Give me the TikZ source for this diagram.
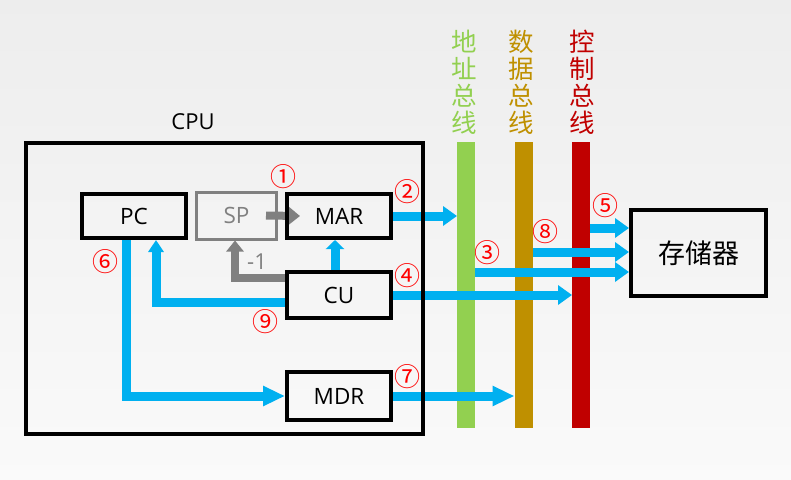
\documentclass[tikz,border=0pt]{standalone}
\usepackage{fontspec}
\setmainfont{Open Sans}
\newfontfamily\cjk{Noto Sans CJK SC}
\usetikzlibrary{arrows.meta}
\pgfdeclarelayer{back}
\pgfdeclarelayer{links}
\pgfsetlayers{back,links,main}

\definecolor{flow}{HTML}{00B0F0}
\definecolor{dim}{HTML}{808080}
\definecolor{addrc}{HTML}{92D050}
\definecolor{datac}{HTML}{BF9000}
\definecolor{ctrlc}{HTML}{C00000}
\definecolor{numred}{HTML}{FF0000}

\tikzset{
  unit/.style={draw, line width=4pt, minimum width=104pt, inner sep=0pt,
    font=\fontsize{22.5}{26}\selectfont},
  bus/.style={minimum width=18pt, minimum height=286pt, inner sep=0pt, outer sep=0pt},
  flowarrow/.style={draw=flow, line width=9pt, -{Triangle[length=14pt,width=19pt]}},
  dimarrow/.style={draw=dim, line width=8pt, -{Triangle[length=11pt,width=17pt]}},
  tag/.style={text=numred, font=\cjk\fontsize{26}{26}\selectfont, inner sep=0pt},
  buslabel/.style={align=center, font=\cjk\fontsize{25.5}{27}\selectfont, inner sep=0pt},
}

\begin{document}
\begin{tikzpicture}[x=1pt,y=-1pt]
% page background and the three buses
\begin{pgfonlayer}{back}
  \shade[top color=black!7, bottom color=black!2] (0,0) rectangle (791,479);
  \node[bus, fill=addrc] (addr) at (466,285) {};
  \node[bus, fill=datac] (data) at (523.5,285) {};
  \node[bus, fill=ctrlc] (ctrl) at (581,285) {};
\end{pgfonlayer}
\useasboundingbox (0,0) rectangle (791,479);

% bus names, one character per line
\node[buslabel, text=addrc] (addrname) at (464,82) {地\\址\\总\\线};
\node[buslabel, text=datac] (dataname) at (521,82) {数\\据\\总\\线};
\node[buslabel, text=ctrlc] (ctrlname) at (582,82) {控\\制\\总\\线};

% CPU and its registers
\node[unit, minimum width=397pt, minimum height=291pt] (cpu) at (224.5,288.5) {};
\node[font=\fontsize{22}{26}\selectfont] (cpuname) at (193,122) {CPU};
\node[unit, minimum height=44pt] (pc) at (134,216) {PC};
\node[unit, draw=dim, text=dim, line width=3pt, minimum width=80pt, minimum height=47pt] (sp) at (236.5,215.5) {SP};
\node[unit, minimum height=44pt] (mar) at (339,216) {MAR};
\node[unit, minimum height=46pt] (cu) at (339,295) {CU};
\node[unit, minimum height=48pt] (mdr) at (339,396) {MDR};

% main memory
\node[unit, minimum width=135pt, minimum height=86pt, font=\cjk\fontsize{27}{27}\selectfont] (mem) at (698.5,253) {存储器};

% data paths
\begin{pgfonlayer}{links}
  \draw[flowarrow] (mar.east) -- (mar.east -| addr.west);
  \draw[flowarrow] (cu.east) -- (cu.east -| ctrl.west);
  \draw[flowarrow, -{Triangle[length=22pt,width=19pt]}] (mdr.east) -- (mdr.east -| data.west);
  \draw[flowarrow] (addr.east |- 0,272) -- (mem.west |- 0,272);
  \draw[flowarrow] (data.east |- 0,252) -- (mem.west |- 0,252);
  \draw[flowarrow] (ctrl.east |- 0,228) -- (mem.west |- 0,228);
  \draw[flowarrow, -{Triangle[length=9pt,width=18pt]}] ([xshift=-4pt]cu.north) -- ([xshift=-4pt]mar.south);
  \draw[flowarrow, -{Triangle[length=12pt,width=15pt]}] (cu.west |- 0,302) -| ([xshift=22pt]pc.south);
  \draw[flowarrow, -{Triangle[length=22pt,width=19pt]}] ([xshift=-8pt]pc.south) |- (mdr.west);
  \draw[dimarrow] ([xshift=-12pt]sp.east) -- ([xshift=15pt]mar.west);
  \draw[dimarrow] (cu.west |- 0,278) -| ([xshift=-1.5pt]sp.south);
\end{pgfonlayer}
\node[text=dim, font=\fontsize{22}{26}\selectfont] (dec) at (257,262) {-1};

% step numbers
\node[tag] (t1) at (283,177) {①};
\node[tag] (t2) at (407,192) {②};
\node[tag] (t3) at (487,253) {③};
\node[tag] (t4) at (407,276) {④};
\node[tag] (t5) at (605,206) {⑤};
\node[tag] (t6) at (105,262) {⑥};
\node[tag] (t7) at (407,377) {⑦};
\node[tag] (t8) at (545,232) {⑧};
\node[tag] (t9) at (265,322) {⑨};
\end{tikzpicture}
\end{document}
